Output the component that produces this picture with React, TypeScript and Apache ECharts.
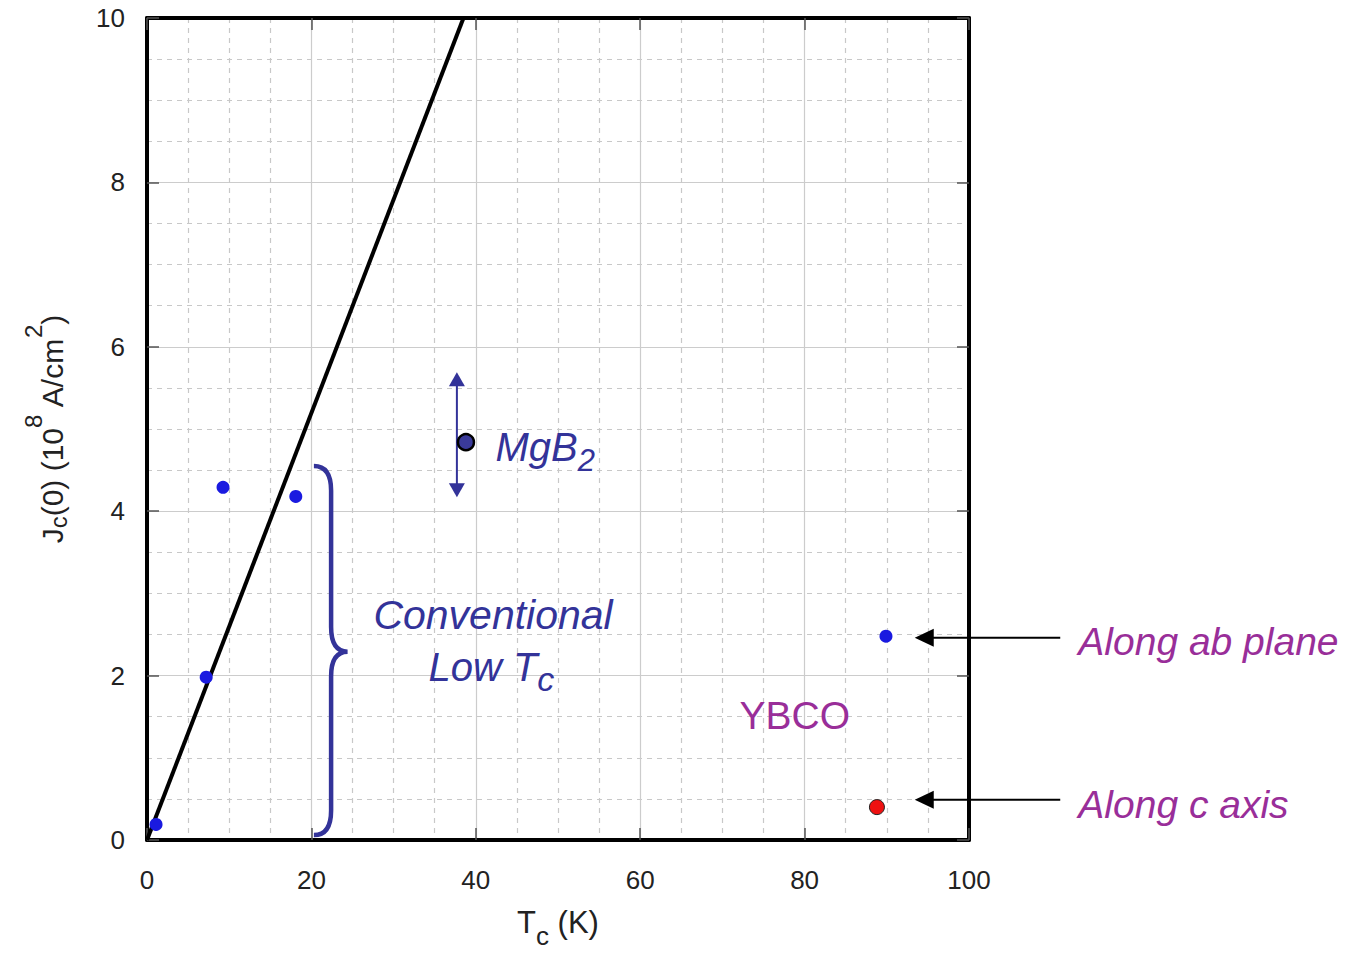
import React, { useEffect, useRef } from 'react';
import * as echarts from 'echarts';

// ---- data ----
const blueTc = [1.1, 7.2, 9.25, 18.1, 89.9];
const blueJc = [0.19, 1.98, 4.29, 4.18, 2.48];
const redTc = [88.8];
const redJc = [0.4];
const mgb2Tc = [38.8];
const mgb2Jc = [4.84];
const mgb2RangeTc = 37.7;
const mgb2RangeJc = [4.17, 5.69];
const fitTc = [0, 38.5];
const fitJc = [0, 10];
// annotation arrows (tail Tc, tip Tc, Jc)
const arrowTailTc = 111.1;
const arrowTipTc = 93.4;
const arrowJc = [2.46, 0.49];
// brace (Tc positions: end, spine, tip; Jc: top, middle, bottom)
const braceTc = [20.3, 22.4, 24.4];
const braceJc = [4.55, 2.29, 0.06];

const FONT = '"Liberation Sans", Arial, sans-serif';
const BLUE = '#333399';
const PURPLE = '#992e99';

function renderAnnotations(params: any, api: any) {
  if (params.dataIndex !== 0) return null;
  const c = (x: number, y: number) => api.coord([x, y]);
  const children: any[] = [];

  // brace
  const [xe, xs, xt] = braceTc;
  const [yt, ym, yb] = braceJc;
  const d = 0.3;
  const p = (x: number, y: number) => c(x, y).map((v: number) => v.toFixed(1)).join(' ');
  const path =
    `M ${p(xe, yt)} Q ${p(xs, yt)} ${p(xs, yt - d)} L ${p(xs, ym + d)} ` +
    `Q ${p(xs, ym)} ${p(xt, ym)} Q ${p(xs, ym)} ${p(xs, ym - d)} ` +
    `L ${p(xs, yb + d)} Q ${p(xs, yb)} ${p(xe, yb)}`;
  children.push({
    type: 'path',
    shape: { pathData: path },
    style: { stroke: BLUE, lineWidth: 4.5, fill: null },
  });

  // right arrows
  arrowJc.forEach((y) => {
    const tail = c(arrowTailTc, y);
    const tip = c(arrowTipTc, y);
    children.push({
      type: 'line',
      shape: { x1: tail[0], y1: tail[1], x2: tip[0] + 14, y2: tip[1] },
      style: { stroke: '#000', lineWidth: 2 },
    });
    children.push({
      type: 'polygon',
      shape: { points: [[tip[0], tip[1]], [tip[0] + 19, tip[1] - 9], [tip[0] + 19, tip[1] + 9]] },
      style: { fill: '#000' },
    });
  });

  // MgB2 vertical range arrow
  const top = c(mgb2RangeTc, mgb2RangeJc[1]);
  const bot = c(mgb2RangeTc, mgb2RangeJc[0]);
  children.push({
    type: 'line',
    shape: { x1: top[0], y1: top[1] + 10, x2: bot[0], y2: bot[1] - 10 },
    style: { stroke: BLUE, lineWidth: 2 },
  });
  children.push({
    type: 'polygon',
    shape: { points: [[top[0], top[1]], [top[0] - 8, top[1] + 14], [top[0] + 8, top[1] + 14]] },
    style: { fill: BLUE },
  });
  children.push({
    type: 'polygon',
    shape: { points: [[bot[0], bot[1]], [bot[0] - 8, bot[1] - 14], [bot[0] + 8, bot[1] - 14]] },
    style: { fill: BLUE },
  });

  const txt = (x: number, y: number, text: string, opts: any) => {
    const pt = c(x, y);
    children.push({
      type: 'text',
      x: pt[0],
      y: pt[1],
      style: {
        text,
        fontFamily: FONT,
        verticalAlign: 'middle',
        ...opts,
      },
    });
  };
  const subRich = (size: number, subSize: number, color: string) => ({
    n: { fontSize: size, lineHeight: 58, fill: color, fontStyle: 'italic', fontFamily: FONT },
    s: { fontSize: subSize, lineHeight: 20, verticalAlign: 'bottom', fill: color, fontStyle: 'italic', fontFamily: FONT },
  });

  txt(42.1, 2.74, 'Conventional', { fontSize: 41, fontStyle: 'italic', fill: BLUE, align: 'center' });
  txt(41.9, 2.1, '{n|Low T}{s|c}', { align: 'center', rich: subRich(40, 34, BLUE) });
  txt(42.4, 4.78, '{n|MgB}{s|2}', { align: 'left', rich: subRich(40, 31, BLUE) });
  txt(78.8, 1.52, 'YBCO', { fontSize: 39, fill: PURPLE, align: 'center' });
  txt(113.3, 2.41, 'Along ab plane', { fontSize: 39, fontStyle: 'italic', fill: PURPLE, align: 'left' });
  txt(113.3, 0.43, 'Along c axis', { fontSize: 39, fontStyle: 'italic', fill: PURPLE, align: 'left' });

  return { type: 'group', children };
}

export default function App() {
  const ref = useRef<HTMLDivElement>(null);
  useEffect(() => {
    if (!ref.current) return;
    const chart = echarts.init(ref.current, null, { renderer: 'svg' });
    const gridLine = { show: true, lineStyle: { color: '#cccccc', width: 1.2 } };
    const minorLine = { show: true, lineStyle: { color: '#c8c8c8', width: 1.2, type: [5, 5] } };
    const tick = { show: true, inside: true, length: 12, lineStyle: { color: '#555', width: 1.5 } };
    const frame = { show: true, onZero: false, lineStyle: { color: '#000', width: 4 } };
    const label = { color: '#222', fontSize: 26, fontFamily: FONT };
    chart.setOption({
      animation: false,
      grid: {
        left: 147,
        top: 18,
        width: 822,
        height: 822,
        show: false,
        containLabel: false,
        outerBoundsMode: 'none',
      },
      xAxis: [
        {
          type: 'value',
          min: 0,
          max: 100,
          interval: 20,
          axisLine: frame,
          axisTick: tick,
          axisLabel: { ...label, margin: 27 },
          splitLine: gridLine,
          minorTick: { show: false, splitNumber: 4 },
          minorSplitLine: minorLine,
          name: 'T{s|c} (K)',
          nameLocation: 'middle',
          nameGap: 58,
          nameTextStyle: {
            color: '#222',
            fontSize: 31,
            lineHeight: 48,
            fontFamily: FONT,
            rich: {
              s: { fontSize: 26, lineHeight: 12, height: 20, verticalAlign: 'bottom', color: '#222', fontFamily: FONT },
            },
          },
        },
        {
          type: 'value',
          position: 'top',
          min: 0,
          max: 100,
          interval: 20,
          axisLine: frame,
          axisTick: tick,
          axisLabel: { show: false },
          splitLine: { show: false },
        },
      ],
      yAxis: [
        {
          type: 'value',
          min: 0,
          max: 10,
          interval: 2,
          axisLine: frame,
          axisTick: tick,
          axisLabel: { ...label, margin: 22 },
          splitLine: gridLine,
          minorTick: { show: false, splitNumber: 4 },
          minorSplitLine: minorLine,
          name: 'J{s|c}(0) (10{p|8} A/cm{p|2})',
          nameLocation: 'middle',
          nameGap: 64,
          nameRotate: 90,
          nameTextStyle: {
            color: '#222',
            fontSize: 30,
            lineHeight: 62,
            fontFamily: FONT,
            rich: {
              s: { fontSize: 24, lineHeight: 14, height: 50, verticalAlign: 'bottom', color: '#222', fontFamily: FONT },
              p: { fontSize: 24, lineHeight: 14, verticalAlign: 'top', color: '#222', fontFamily: FONT },
            },
          },
        },
        {
          type: 'value',
          position: 'right',
          min: 0,
          max: 10,
          interval: 2,
          axisLine: frame,
          axisTick: tick,
          axisLabel: { show: false },
          splitLine: { show: false },
        },
      ],
      series: [
        {
          type: 'line',
          data: fitTc.map((x, i) => [x, fitJc[i]]),
          showSymbol: false,
          symbol: 'none',
          lineStyle: { color: '#000', width: 4 },
          z: 3,
        },
        {
          type: 'scatter',
          data: blueTc.map((x, i) => [x, blueJc[i]]),
          symbolSize: 13,
          itemStyle: { color: '#1a1ae0', opacity: 1 },
          z: 4,
        },
        {
          type: 'scatter',
          data: redTc.map((x, i) => [x, redJc[i]]),
          symbolSize: 15,
          itemStyle: { color: '#ee1111', borderColor: '#222', borderWidth: 1, opacity: 1 },
          z: 4,
        },
        {
          type: 'custom',
          data: [[0, 0]],
          clip: false,
          renderItem: renderAnnotations,
          z: 5,
        },
        {
          type: 'scatter',
          data: mgb2Tc.map((x, i) => [x, mgb2Jc[i]]),
          symbolSize: 16,
          itemStyle: { color: '#3a3a9a', borderColor: '#000', borderWidth: 2.5, opacity: 1 },
          z: 6,
        },
      ],
    });
    return () => chart.dispose();
  }, []);
  return (
    <div
      ref={ref}
      style={{ position: 'absolute', left: 0, top: 0, width: 1349, height: 954 }}
    />
  );
}
